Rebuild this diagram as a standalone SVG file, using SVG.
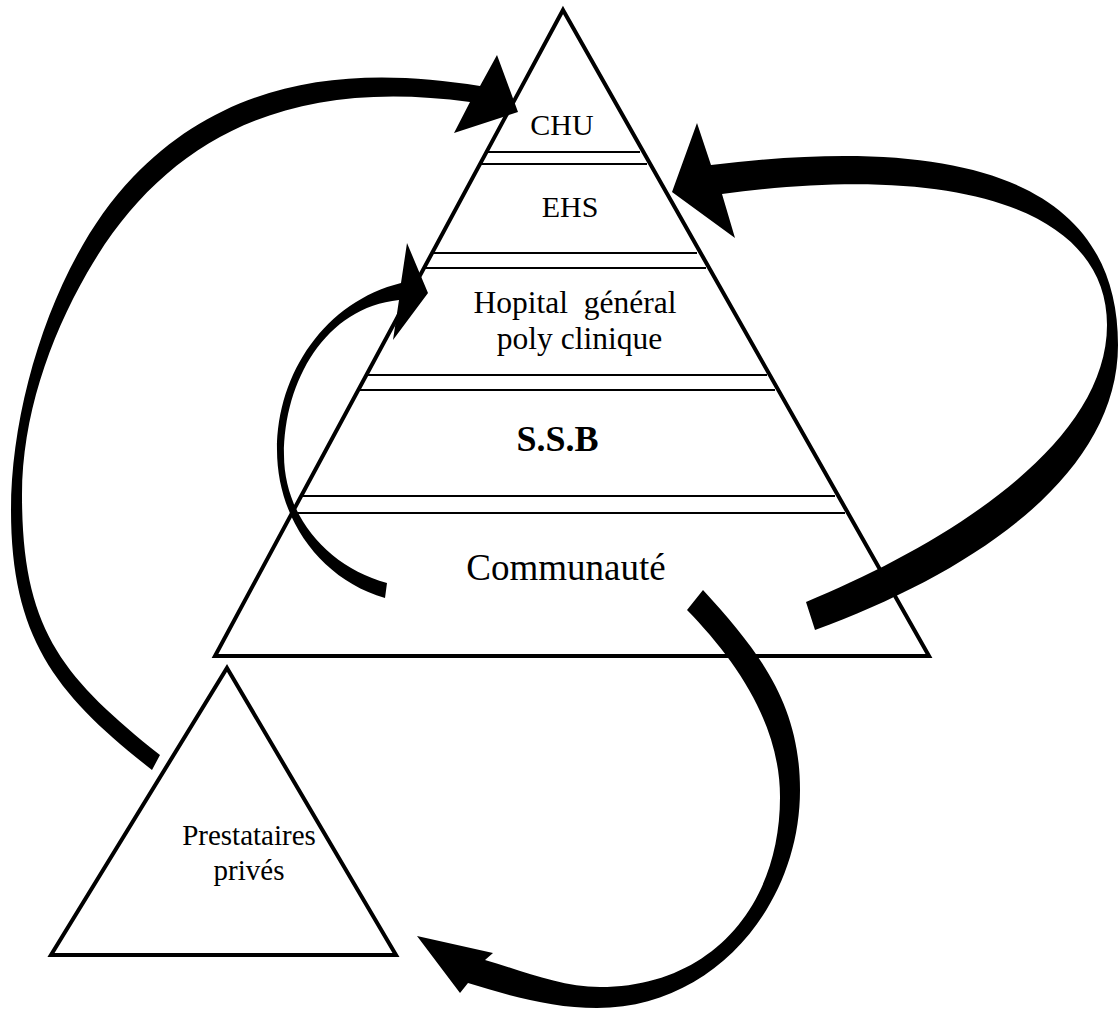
<svg xmlns="http://www.w3.org/2000/svg" width="1120" height="1009" viewBox="0 0 1120 1009">
<style>
.tri{fill:#fff;stroke:#000;stroke-width:4;stroke-linejoin:miter;stroke-miterlimit:10}
.band{stroke:#000;stroke-width:2;fill:none}
.lbl{font-family:"Liberation Serif","Times New Roman",serif;fill:#000;text-anchor:middle}
.arrow{fill:#000;stroke:none}
</style>
<rect width="1120" height="1009" fill="#fff"/>
<g id="pyramid">
<polygon class="tri" points="563,10 929,656 215,656"/>
<g id="bands">
<line class="band" x1="487" y1="152" x2="640" y2="152"/>
<line class="band" x1="481" y1="164" x2="647" y2="164"/>
<line class="band" x1="433" y1="253" x2="697" y2="253"/>
<line class="band" x1="425" y1="268" x2="706" y2="268"/>
<line class="band" x1="367" y1="375" x2="767" y2="375"/>
<line class="band" x1="359" y1="390" x2="775" y2="390"/>
<line class="band" x1="302" y1="496" x2="835" y2="496"/>
<line class="band" x1="293" y1="513" x2="845" y2="513"/>
</g>
</g>
<g id="node-chu"><text class="lbl" x="562" y="135" font-size="30">CHU</text></g>
<g id="node-ehs"><text class="lbl" x="570" y="217" font-size="30">EHS</text></g>
<g id="node-hopital">
<text class="lbl" x="575" y="313" font-size="31.5" xml:space="preserve">Hopital  général</text>
<text class="lbl" x="579.5" y="349" font-size="31.5">poly clinique</text>
</g>
<g id="node-ssb"><text class="lbl" x="557.5" y="451" font-size="36" font-weight="bold">S.S.B</text></g>
<g id="node-communaute"><text class="lbl" x="566" y="580" font-size="37">Communauté</text></g>
<g id="node-prives">
<polygon class="tri" points="227,668 396,955 51,955"/>
<text class="lbl" x="249" y="845" font-size="29">Prestataires</text>
<text class="lbl" x="249" y="880" font-size="29">privés</text>
</g>
<g id="connectors">
<path id="arrow-prives-chu" class="arrow" d="M480,86 C346.8,64.5 226.8,79.9 133,177 C56.5,256.1 11,400 11,510 C11,640 57.7,695.8 152,770 L160,755 C62.4,676.9 22,630 22,495 C22,418 48.7,339.8 87,273 C161.6,142.8 281.7,76 470,102 L454,133 L518,112 L497,55 Z"/>
<path id="arrow-communaute-ehs" class="arrow" d="M711,165 C988.8,130.6 1118,195 1118,345 C1118,475 974.6,571.5 815,630 L806,602 C944.6,544.6 1107,445 1107,325 C1107,215 969.8,160.8 722,194 L735,238 L672,192 L697,123 Z"/>
<path id="arrow-communaute-hopital" class="arrow" d="M401,283 C325.8,301.6 277,372.5 277,450 C277,518 319.7,579 385,598 L387,583 C328,567.1 284,516 284,455 C284,381 325.4,307.4 399,300 L393,340 L428,293 L407,243 Z"/>
<path id="arrow-communaute-prives" class="arrow" d="M703,590 C760.5,652.6 800,705 800,790 C800,906 713,1008 597,1008 C553,1008 510,996.1 468,983 L460,993 L417,936 L493,953 L485,960 C523.4,971.1 560,987 600,987 C710,987 780,907 780,797 C780,725 737.3,661.5 687,610 Z"/>
</g>
</svg>
